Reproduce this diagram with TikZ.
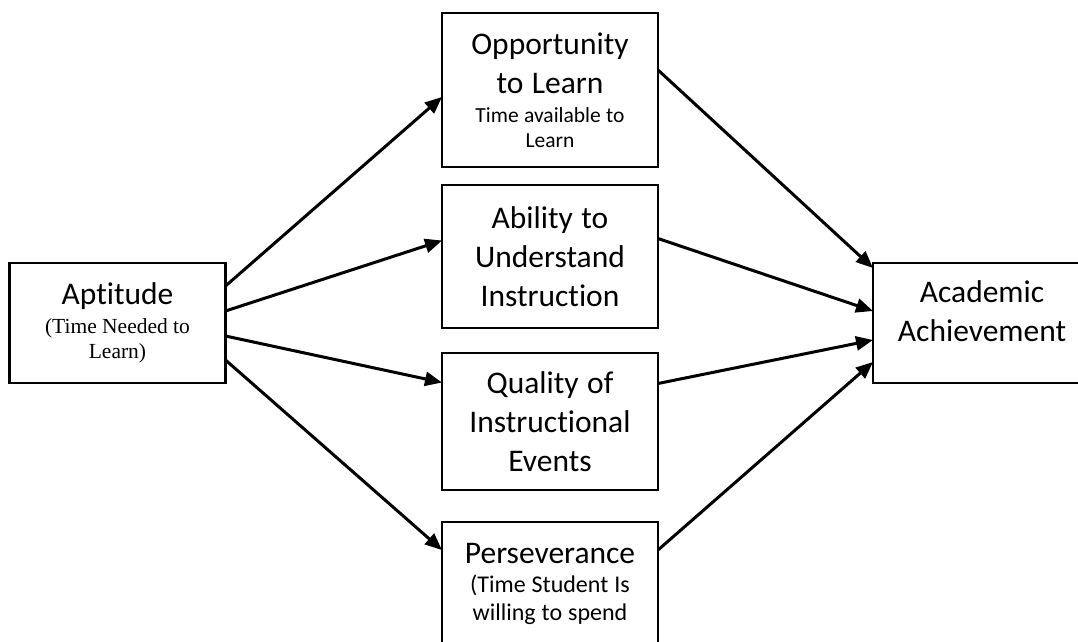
\documentclass[tikz,border=0pt]{standalone}
\usepackage{fontspec}
\setmainfont{Carlito}[Ligatures=NoCommon]
\newfontfamily\timesfont{Liberation Serif}
\usepackage{tikz}
\usetikzlibrary{arrows.meta}
\newcommand{\bigtext}{\fontsize{31.5}{39}\selectfont\spaceskip=0.27em\relax}
\newcommand{\smalltext}{\fontsize{21.5}{25}\selectfont\spaceskip=0.25em\relax}
\newcommand{\midtext}{\fontsize{24}{28}\selectfont\spaceskip=0.25em\relax}

\begin{document}
\begin{tikzpicture}[x=1pt, y=-1pt,
  box/.style={draw, line width=2.2pt, outer sep=0pt, inner xsep=8pt, inner ysep=4pt,
    text width=200pt, align=center, minimum width=216pt},
  link/.style={line width=3pt, -{Triangle[length=17pt,width=14pt]}}]
%
\useasboundingbox[fill=white] (0,0) rectangle (1078,641);
\clip (0,0) rectangle (1078,641);

%
\node[box, minimum height=120pt](apt) at (117.5,323) {\bigtext Aptitude\par
    \vspace{4pt}\timesfont\smalltext (Time Needed to\par Learn)\par};

\node[box, minimum height=154pt](opp) at (550,90) {\bigtext Opportunity\par to Learn\par
    \vspace{4pt}\smalltext Time available to\par Learn\par};
\node[box, minimum height=143pt](abil) at (550,256.5) {\bigtext Ability to\par Understand\par Instruction\par};
\node[box, minimum height=137pt](qual) at (550,421.5) {\bigtext Quality of\par Instructional\par Events\par};
\node[box, anchor=north, inner ysep=21pt](pers) at (550,522) {\bigtext Perseverance\par
    \vspace{1pt}\midtext (Time Student Is\par willing to spend\par};

\node[box, minimum height=120pt, minimum width=218pt](ach) at (982,323) {\bigtext Academic\par
    Achievement\rule[-23pt]{0pt}{23pt}\par};

%
\draw[link] ([yshift=37pt]apt.east) -- ([yshift=-7pt]opp.west);
\draw[link] ([yshift=12pt]apt.east) -- ([yshift=16pt]abil.west);
\draw[link] ([yshift=-13pt]apt.east) -- ([yshift=39pt]qual.west);
\draw[link] ([yshift=-37pt]apt.east) -- ([yshift=-28pt]pers.north west);

%
\draw[link] ([yshift=20pt]opp.east) -- ([yshift=55pt]ach.west);
\draw[link] ([yshift=18pt]abil.east) -- ([yshift=12pt]ach.west);
\draw[link] ([yshift=38pt]qual.east) -- ([yshift=-17pt]ach.west);
\draw[link] ([yshift=-28pt]pers.north east) -- ([yshift=-39pt]ach.west);

\end{tikzpicture}
\end{document}
